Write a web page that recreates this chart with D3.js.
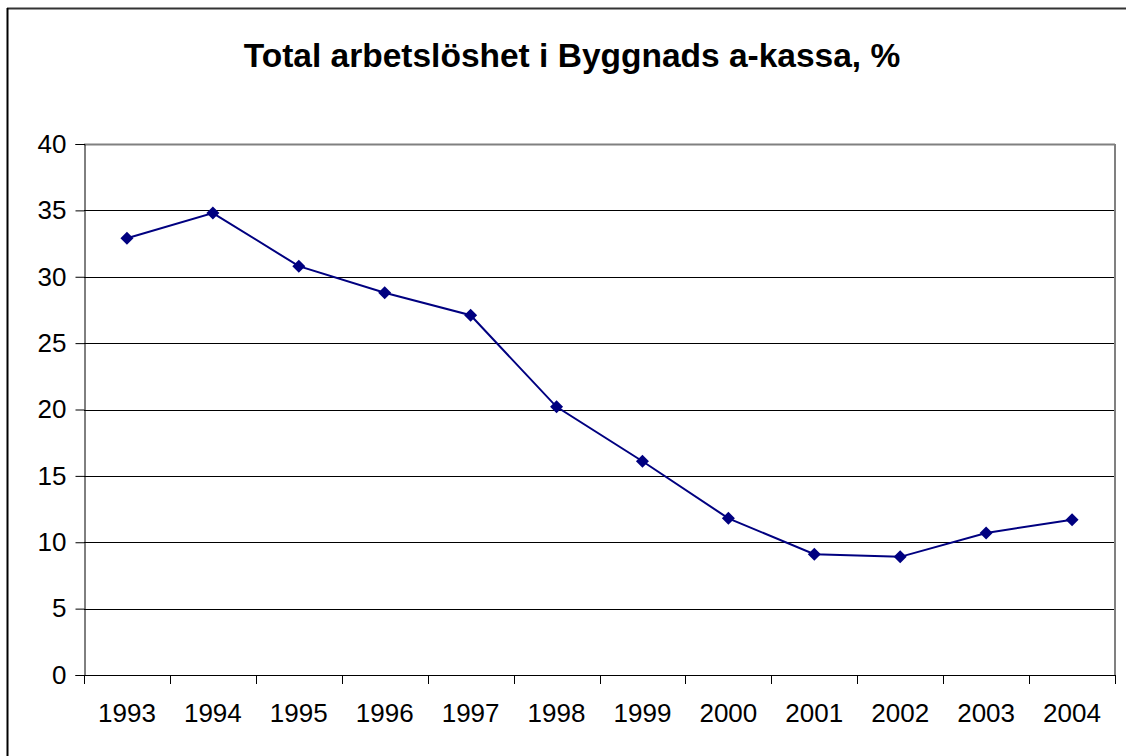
<!DOCTYPE html>
<html><head><meta charset="utf-8">
<script src="https://cdn.jsdelivr.net/npm/d3@7"></script>
<style>body{margin:0;background:#fff}svg{display:block}</style>
</head><body>
<script>
const years = ["1993","1994","1995","1996","1997","1998","1999","2000","2001","2002","2003","2004"];
const values = [32.9, 34.8, 30.8, 28.8, 27.1, 20.2, 16.1, 11.8, 9.1, 8.9, 10.7, 11.7];
const yTicks = [0,5,10,15,20,25,30,35,40];
const title = "Total arbetslöshet i Byggnads a-kassa, %";

const W = 1126, H = 756;
const m = {left:84, right:1115, top:144, bottom:675};
const FF = "'Liberation Sans', Arial, sans-serif";
const svg = d3.select("body").append("svg").attr("width",W).attr("height",H)
  .style("font-family",FF);

// outer frame (top & left visible)
svg.append("line").attr("x1",7).attr("x2",W).attr("y1",8.5).attr("y2",8.5).attr("stroke","#333").attr("stroke-width",2);
svg.append("line").attr("x1",7.5).attr("x2",7.5).attr("y1",8).attr("y2",H).attr("stroke","#000").attr("stroke-width",2);

svg.append("text").attr("x",572).attr("y",67).attr("text-anchor","middle")
  .attr("font-size",33.5).attr("font-weight","bold").text(title);

const x = d3.scaleBand().domain(years).range([m.left,m.right]);
const y = d3.scaleLinear().domain([0,40]).range([m.bottom,m.top]);

// gridlines
svg.append("g").selectAll("line").data(yTicks.filter(d=>d>0)).join("line")
  .attr("x1",m.left).attr("x2",m.right)
  .attr("y1",d=>Math.round(y(d))+0.5).attr("y2",d=>Math.round(y(d))+0.5)
  .attr("stroke",d=>d===40?"#808080":"#000").attr("stroke-width",d=>d===40?2:1);
// right border
svg.append("line").attr("x1",m.right).attr("x2",m.right).attr("y1",m.top).attr("y2",m.bottom)
  .attr("stroke","#808080").attr("stroke-width",2);

// y axis
const ya = svg.append("g").attr("transform",`translate(${m.left+0.5},0)`)
  .call(d3.axisLeft(y).tickValues(yTicks).tickSize(9).tickPadding(9));
ya.select(".domain").attr("stroke","#000");
ya.selectAll(".tick line").attr("stroke","#000");
ya.selectAll("text").attr("font-size",26).attr("fill","#000").attr("font-family",FF);

// x axis
const xa = svg.append("g").attr("transform",`translate(0,${m.bottom+0.5})`)
  .call(d3.axisBottom(x).tickSize(0).tickPadding(28));
xa.select(".domain").remove();
xa.selectAll("text").attr("font-size",26).attr("fill","#000").attr("font-family",FF);
svg.append("line").attr("x1",m.left).attr("x2",m.right).attr("y1",m.bottom+0.5).attr("y2",m.bottom+0.5).attr("stroke","#000");
const bounds = years.map(d=>x(d)).concat([m.right]);
svg.append("g").selectAll("line").data(bounds).join("line")
  .attr("x1",d=>Math.round(d)+0.5).attr("x2",d=>Math.round(d)+0.5)
  .attr("y1",m.bottom).attr("y2",m.bottom+9).attr("stroke","#000");

// line
const cx = d=>x(d)+x.bandwidth()/2;
svg.append("path").datum(years.map((d,i)=>[cx(d),y(values[i])]))
  .attr("d",d3.line()).attr("fill","none").attr("stroke","#000080").attr("stroke-width",2);
svg.append("g").selectAll("path").data(years).join("path")
  .attr("transform",(d,i)=>`translate(${cx(d)},${y(values[i])})`)
  .attr("d","M0,-6.5L6.5,0L0,6.5L-6.5,0Z").attr("fill","#000080");
</script>
</body></html>
